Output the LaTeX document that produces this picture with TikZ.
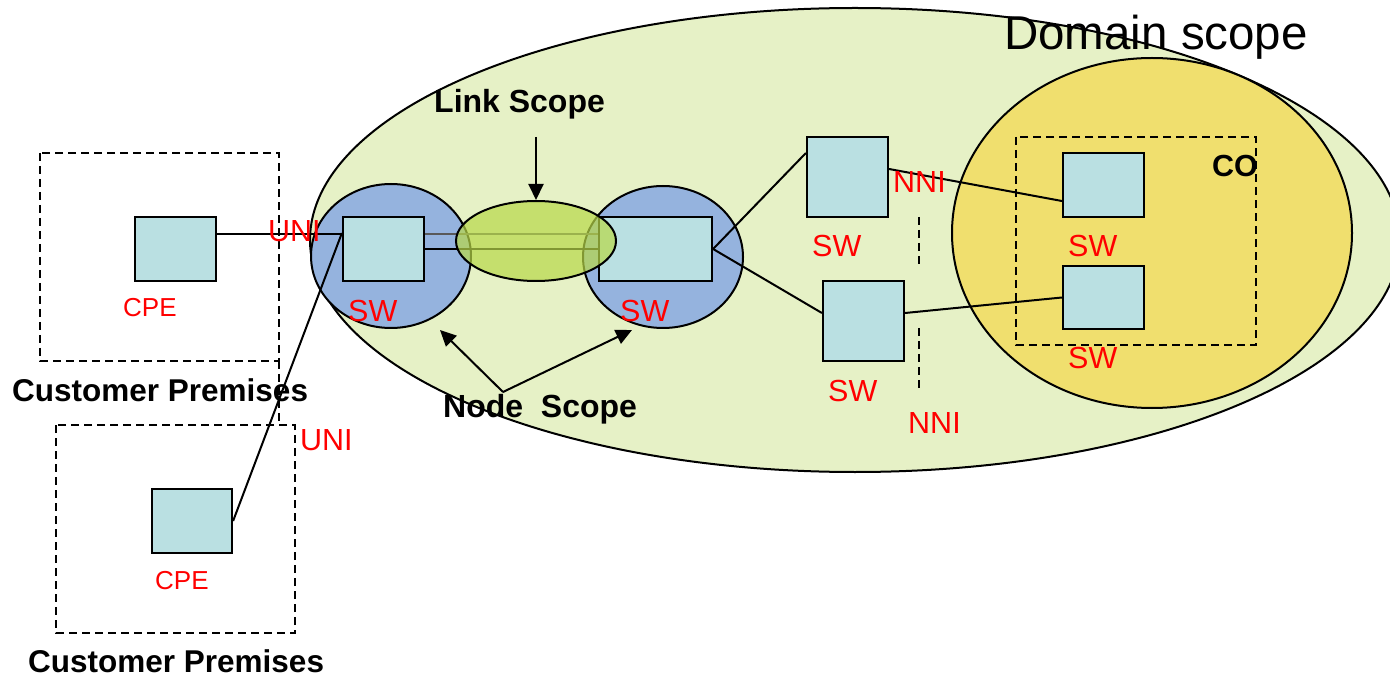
\documentclass[tikz,border=0pt]{standalone}
\usepackage{fontspec}
\setmainfont{Liberation Sans}
\usetikzlibrary{shapes.geometric,arrows.meta}
\definecolor{domainc}{HTML}{E6F1C6}
\definecolor{coc}{HTML}{F0DF6E}
\definecolor{bluec}{HTML}{95B3DE}
\definecolor{linkc}{HTML}{B8D848}
\definecolor{boxc}{HTML}{BAE0E2}
\definecolor{redc}{HTML}{FF0000}
\begin{document}
\begin{tikzpicture}[x=1pt,y=-1pt,
  lw/.style={line width=2pt},
  scopeell/.style={ellipse,draw,lw,inner sep=0pt},
  devbox/.style={rectangle,draw,line width=2.2pt,fill=boxc,inner sep=0pt},
  dashbox/.style={draw,line width=1.8pt,dash pattern=on 8pt off 5pt},
  conn/.style={draw,lw},
  arr/.style={draw,lw,-{Triangle[length=16pt,width=15pt]}},
  redlbl/.style={text=redc,inner sep=0pt,anchor=base west,font=\fontsize{30.5}{34}\selectfont},
  cpelbl/.style={text=redc,inner sep=0pt,anchor=base west,font=\fontsize{26}{30}\selectfont},
  boldlbl/.style={inner sep=0pt,anchor=base west,font=\bfseries\fontsize{32}{36}\selectfont},
]
\useasboundingbox (0,0) rectangle (1390,676);
% scopes
\node[scopeell,fill=domainc,minimum width=1090pt,minimum height=464pt] (domain) at (855,240) {};
\node[scopeell,fill=coc,minimum width=400pt,minimum height=350pt] (co) at (1152,233) {};
\draw[dashbox] (1016,137) rectangle (1256,345);
\node[scopeell,fill=bluec,minimum width=160pt,minimum height=144pt] (blue1) at (391,256) {};
\node[scopeell,fill=bluec,minimum width=160pt,minimum height=142pt] (blue2) at (663,257) {};
% customer premises boxes
\draw[dashbox] (40,153) rectangle (279,361);
\draw[dashbox] (279,361) -- (279,425);
\draw[dashbox] (56,425) rectangle (295,633);
% devices
\node[devbox,minimum width=81pt,minimum height=64pt] (cpe1) at (175.5,249) {};
\node[devbox,minimum width=80pt,minimum height=64pt] (cpe2) at (192,521) {};
\node[devbox,minimum width=81pt,minimum height=64pt] (sw1) at (383.5,249) {};
\node[devbox,minimum width=113pt,minimum height=64pt] (sw2) at (655.5,249) {};
\node[devbox,minimum width=81pt,minimum height=80pt] (sw3) at (847.5,177) {};
\node[devbox,minimum width=81pt,minimum height=80pt] (sw4) at (863.5,321) {};
\node[devbox,minimum width=81pt,minimum height=64pt] (sw5) at (1103.5,185) {};
\node[devbox,minimum width=81pt,minimum height=63pt] (sw6) at (1103.5,297.5) {};
% link lines
\draw[lw,draw=black!65] ([yshift=15pt]sw1.east) -- ([yshift=15pt]sw2.west);
\draw[lw] (sw1.east) -- (sw2.west);
\node[scopeell,fill=linkc,fill opacity=0.7,minimum width=160pt,minimum height=80pt] (link) at (536,241) {};
% connectors
\draw[conn] ([yshift=15pt]cpe1.east) -- ([yshift=15pt]sw1.west);
\draw[conn] (cpe2.east) -- ([yshift=16pt]sw1.west);
\draw[conn] (sw2.east) -- ([yshift=24pt]sw3.west);
\draw[conn] (sw2.east) -- ([yshift=8pt]sw4.west);
\draw[conn] ([yshift=8pt]sw3.east) -- ([yshift=-16pt]sw5.west);
\draw[conn] ([yshift=8pt]sw4.east) -- (sw6.west);
% NNI dashed markers
\coordinate (n1a) at (919,217); \coordinate (n1b) at (919,266);
\coordinate (n2a) at (919,328); \coordinate (n2b) at (919,392);
\draw[lw,dash pattern=on 8pt off 5pt] (n1a) -- (n1b);
\draw[lw,dash pattern=on 8pt off 5pt] (n2a) -- (n2b);
% scope arrows
\coordinate (lsStart) at (536,137);
\draw[arr] (lsStart) -- (link.north);
\coordinate (nsStart) at (503,392);
\coordinate (nsL) at (440,330);
\coordinate (nsR) at (632,330);
\draw[arr] (nsStart) -- (nsL);
\draw[arr] (nsStart) -- (nsR);
% labels
\node[inner sep=0pt,anchor=base west,font=\fontsize{47.5}{52}\selectfont] (tDomain) at (1004,50) {Domain scope};
\node[boldlbl] (tLink) at (434,113) {Link Scope};
\node[boldlbl] (tNode) at (443,417) {Node\ \ Scope};
\node[boldlbl,font=\bfseries\fontsize{30.5}{34}\selectfont] (tCO) at (1212,177) {CO};
\node[boldlbl,font=\bfseries\fontsize{31.5}{34}\selectfont] (tCP1) at (12,402) {Customer Premises};
\node[boldlbl,font=\bfseries\fontsize{31.5}{34}\selectfont] (tCP2) at (28,672) {Customer Premises};
\node[redlbl] (tUNI1) at (268,242) {UNI};
\node[redlbl] (tUNI2) at (300,450) {UNI};
\node[cpelbl] (tCPE1) at (123,317) {CPE};
\node[cpelbl] (tCPE2) at (155,589) {CPE};
\node[redlbl] (tSW1) at (348,322) {SW};
\node[redlbl] (tSW2) at (620,322) {SW};
\node[redlbl] (tSW3) at (812,257) {SW};
\node[redlbl] (tSW4) at (828,402) {SW};
\node[redlbl] (tSW5) at (1068,257) {SW};
\node[redlbl] (tSW6) at (1068,368) {SW};
\node[redlbl] (tNNI1) at (893,193) {NNI};
\node[redlbl] (tNNI2) at (908,433) {NNI};
\end{tikzpicture}
\end{document}
